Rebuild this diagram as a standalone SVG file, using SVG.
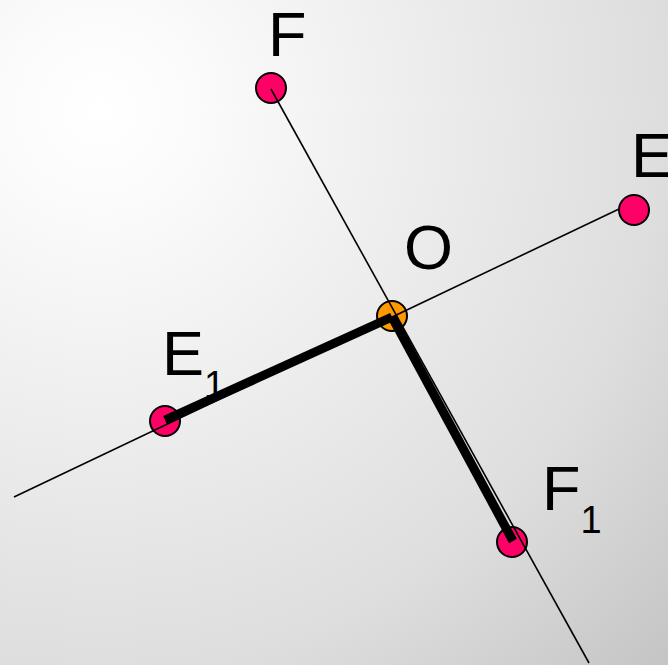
<svg xmlns="http://www.w3.org/2000/svg" width="668" height="665" viewBox="0 0 668 665">
<defs>
<radialGradient id="bg" gradientUnits="userSpaceOnUse" cx="100" cy="110" r="800">
<stop offset="0" stop-color="#ffffff"/>
<stop offset="0.12" stop-color="#fbfbfb"/>
<stop offset="0.7" stop-color="#dedede"/>
<stop offset="1" stop-color="#c4c4c4"/>
</radialGradient>
<style>
.pt{fill:#ff0066;stroke:#000;stroke-width:2}
.o{fill:#ff9900;stroke:#000;stroke-width:2}
.lbl{font-family:"Liberation Sans",Arial,sans-serif;font-size:63px;fill:#000}
.sub{font-size:38px}
.thin{stroke:#000;stroke-width:1.6;fill:none}
.thick{stroke:#000;stroke-width:9;fill:none}
</style>
</defs>
<rect width="668" height="665" fill="url(#bg)"/>
<g id="F"><circle class="pt" cx="271" cy="88" r="15"/><text class="lbl" x="268" y="56">F</text></g>
<g id="E"><circle class="pt" cx="634" cy="210" r="15"/><text class="lbl" x="631" y="177">E</text></g>
<g id="O"><circle class="o" cx="392" cy="316" r="15"/><text class="lbl" x="404" y="269">O</text></g>
<g id="E1"><circle class="pt" cx="165" cy="421" r="15"/><text class="lbl" x="162" y="375">E<tspan class="sub" dy="23">1</tspan></text></g>
<g id="F1"><circle class="pt" cx="512" cy="542" r="15"/><text class="lbl" x="542" y="510">F<tspan class="sub" dy="23">1</tspan></text></g>
<g id="connectors">
<line class="thin" x1="14" y1="497" x2="619" y2="209"/>
<line class="thin" x1="271" y1="89" x2="589" y2="663"/>
<line class="thick" x1="165" y1="420" x2="392" y2="317"/>
<line class="thick" x1="392" y1="317" x2="513" y2="541"/>
</g>
</svg>
